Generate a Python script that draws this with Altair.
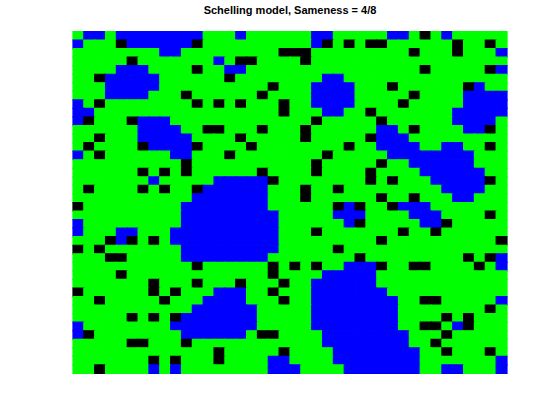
import altair as alt
import pandas as pd

# 40 x 40 Schelling grid: G = green agent, B = blue agent, K = empty (black)
grid_rows = [
    "GBBGBBBBBB" "BBGGGBGGGG" "GGBBGGGGGB" "BGKGBGGGGG",
    "BGGGKBBBBB" "BKGGGGGGGG" "GGBKGKGKKG" "GGGGGKGGKG",
    "GGGGGGGGBB" "GGGGGGGGGK" "KKGGGGGGGG" "GKGGGKGGGB",
    "GGGGGKGGGG" "GGGBGKKGGG" "GKGGGGGGGG" "GGGGGGGGGG",
    "GGGGBBBGGG" "GKGGBBGGGG" "GGGGGGGGGG" "GGKGGGGGKB",
    "GGKBBBBBGG" "GGGGKGGGGG" "GGGBBGGGGG" "GGGGGGGGGG",
    "GGGBBBBBGG" "GGGGGGGGKG" "GGBBBBGGGK" "GGGGGGKBGG",
    "GGGBBBBGGG" "KGGGGGGKGG" "GGBBBBGGGG" "GKGGGGBBBB",
    "BGKGGGGGGG" "GKGKGKGGGK" "GGBBBBGGGG" "KGGGGGBBBB",
    "BBGGGGGGGG" "GGGGGGGGGK" "GGGBBGGKGG" "GGGGGBBBBB",
    "BKGGGKBBBG" "GGGGGGGGGG" "GGKGGGGGKG" "GGGGGBBBBG",
    "GGGGGGBBBB" "GGKKGGGKGG" "GKGGGGGGBB" "GKGGGGBBKG",
    "GGKGGGBBBB" "BGGGGKGGGG" "GKGGGGGKBB" "BGGGGGGGGG",
    "GKGGGGKBBB" "BKGGGGKGGG" "GGGGGKGGBB" "BBGGBBGGKG",
    "BGKGGGGGGB" "BGGGKGGGGG" "GGGKGGGGGB" "BBBBBBBGGG",
    "GGGGGGGGGG" "KGGGGGGGGG" "GGKGGGGGKG" "GBBBBBBGGG",
    "GGGGGGKGKG" "KGGGGGGKGG" "GGKGGGGKGG" "GGBBBBBBGG",
    "GGGGGGGBGG" "GGGBBBBBKG" "GGGGGGGKGK" "GGGBBBBBKG",
    "GKGGGGKGKG" "GKBBBBBBGG" "GKGGKGGGGG" "GGGGBBBBGG",
    "GGGGGGGGGG" "GBBBBBBBGG" "GKGGGGGGKG" "GKGGGBBGGG",
    "KGGGGGGGGG" "BBBBBBBBGG" "GGGGKBKGGK" "BBBGGGGGGG",
    "GGGGGGGGGG" "BBBBBBBBBG" "GGGGBBBGGG" "GBBBGGGGKG",
    "BGGGGGGGGG" "BBBBBBBBBG" "GGGGGBKGGG" "GGBBKGGGGG",
    "BGGGBBGGGB" "BBBBBBBBBG" "GGKGGGGGGG" "KGGKGGGGGG",
    "GGGKBKGKGB" "BBBBBBBBBG" "GGGGGGGGKG" "GGGGGGGGGK",
    "KGKGGGGGGG" "BBBBBBBBBG" "GGGGKGGGGG" "GGGGGGGGGG",
    "GGGKKGGGGG" "BBBBBBBBGG" "GGGGGGKGGG" "GGGGGGKGKB",
    "GGGGGGGGGG" "GKGGGGGGKG" "KGKGGBBBKG" "GKKGGGGKGB",
    "GGGGKGGGGG" "GGGGGGGGKG" "GGGBBBBBGG" "GGGGGGGGGG",
    "GGGGGGGKGG" "GKGGGKGGGK" "GGBBBBBBGG" "GGGGGGGGGG",
    "KGGGGGGKGK" "GGGBBBGGKG" "GGBBBBBBBG" "GGGGGGGGGG",
    "GGKGGGGGKG" "GGBBBBGGGK" "GGBBBBBBBB" "GGKKGGGGGB",
    "GGGGGGGGGG" "GBBBBBBGGG" "GGBBBBBBBB" "GGGGGGGGKG",
    "GGGGGKGKGK" "BBBBBBBGGG" "GGBBBBBBBB" "GGGGKGKGGG",
    "BGGGGGGGGB" "BBBBBBBGGG" "GGBBBBBBBB" "GGKKGBKGGG",
    "BKGGGGGGGG" "BBBBBBGKKG" "GGGBBBBBBB" "BGGGKGGGGG",
    "GGGGGKKGGG" "KGGGGGGGGG" "GGGBBBBBBB" "BGGKGGGGGG",
    "GGGGGGGGGG" "GGGKGGGGGK" "GGGGBBBBBB" "BBGGKGGGKG",
    "GGGGGGGKGK" "GGGKGGGGBB" "GGGGBBBBBB" "BBGGGGGGGB",
    "GGKGGGGBGB" "GGGGGGGGBB" "BGGGGBBBBB" "BBGGBBGGGB",
]

state_codes = ["G", "B", "K"]
state_colors = ["#00ff00", "#0000ff", "#000000"]
title_text = "Schelling model, Sameness = 4/8"

records = [
    {"col": c, "row": r, "state": ch}
    for r, line in enumerate(grid_rows)
    for c, ch in enumerate(line)
]
df = pd.DataFrame(records)

scale_x = alt.Scale(paddingInner=0, paddingOuter=0)
scale_y = alt.Scale(paddingInner=0, paddingOuter=0)

chart = (
    alt.Chart(df)
    .mark_rect(strokeWidth=1.2, opacity=1, fillOpacity=1, strokeOpacity=1)
    .encode(
        x=alt.X("col:O", axis=None, scale=scale_x),
        y=alt.Y("row:O", axis=None, scale=scale_y),
        color=alt.Color(
            "state:N",
            scale=alt.Scale(domain=state_codes, range=state_colors),
            legend=None,
        ),
        stroke=alt.Stroke(
            "state:N",
            scale=alt.Scale(domain=state_codes, range=state_colors),
            legend=None,
        ),
    )
    .properties(
        width=434,
        height=342,
        autosize="none",
        padding={"left": 73, "top": 31.5, "right": 53, "bottom": 46.5},
        title=alt.TitleParams(
            text=title_text,
            font="Liberation Sans",
            fontSize=11,
            fontWeight="bold",
            color="#000000",
            anchor="middle",
            baseline="alphabetic",
            offset=6,
        ),
        background="#ffffff",
    )
    .configure_view(strokeWidth=0)
)

chart.save("out.html", embed_options={"renderer": "svg", "actions": False})
